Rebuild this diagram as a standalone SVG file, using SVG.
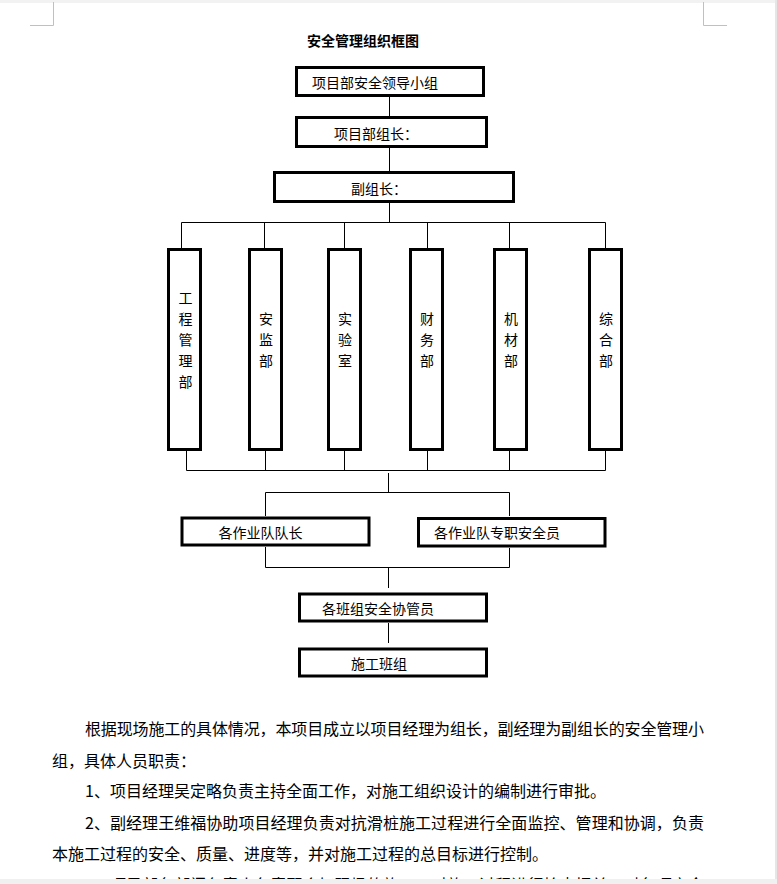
<svg xmlns="http://www.w3.org/2000/svg" width="777" height="884" viewBox="0 0 777 884">
<style>
.box{fill:#fff;stroke:#000;stroke-width:3}
.ln{fill:none;stroke:#000;stroke-width:1}
.lbl{font-family:"Noto Sans CJK SC","Noto Sans",sans-serif;font-size:14px;fill:#000;dominant-baseline:central}
.vt{font-family:"Noto Sans CJK SC","Noto Sans",sans-serif;font-size:14px;fill:#000;dominant-baseline:central;text-anchor:middle}
.title{font-family:"Noto Sans CJK SC","Noto Sans",sans-serif;font-size:14px;font-weight:bold;fill:#000;dominant-baseline:central}
.para{font-family:"Noto Sans CJK SC","Noto Sans",sans-serif;font-size:16px;fill:#000;dominant-baseline:central}
.mark{fill:none;stroke:#c0c0c0;stroke-width:1}
</style>
<rect x="0" y="0" width="777" height="884" fill="#fff"/>
<rect x="0" y="0" width="777" height="3" fill="#f2f2f2"/>
<rect x="775" y="0" width="2" height="884" fill="#e6e6e6"/>
<path class="mark" d="M53.5 2 V25.5 H30 M703.5 2 V25.5 H727"/>
<text class="title" x="307" y="40">安全管理组织框图</text>

<g id="connectors">
<path class="ln" d="M389.5 97 V116 M389.5 148 V171 M389.5 203 V222.5"/>
<path class="ln" d="M181.5 222.5 H605.5 M181.5 222.5 V248 M264.5 222.5 V248 M344.5 222.5 V248 M427.5 222.5 V248 M509.5 222.5 V248 M605.5 222.5 V248"/>
<path class="ln" d="M186.5 451 V470.5 M265.5 451 V470.5 M344.5 451 V470.5 M427.5 451 V470.5 M509.5 451 V470.5 M605.5 451 V470.5 M186.5 470.5 H605.5"/>
<path class="ln" d="M388.5 473 V492.5 M265.5 492.5 H509.5 M265.5 492.5 V516 M509.5 492.5 V516"/>
<path class="ln" d="M265.5 547 V567.5 M509.5 548 V567.5 M265.5 567.5 H509.5 M388.5 567.5 V588"/>
<path class="ln" d="M388.5 623 V643"/>
</g>

<g id="n1"><rect class="box" x="296.5" y="67.5" width="187" height="28"/><text class="lbl" x="312" y="82">项目部安全领导小组</text></g>
<g id="n2"><rect class="box" x="296.5" y="117.5" width="190" height="29"/><text class="lbl" x="334" y="133">项目部组长：</text></g>
<g id="n3"><rect class="box" x="274.5" y="172.5" width="239" height="29"/><text class="lbl" x="351" y="188">副组长：</text></g>

<g id="d1"><rect class="box" x="168.5" y="249.5" width="32" height="200"/>
<text class="vt" x="185.5" y="297">工</text><text class="vt" x="185.5" y="318">程</text><text class="vt" x="185.5" y="339">管</text><text class="vt" x="185.5" y="360">理</text><text class="vt" x="185.5" y="381">部</text></g>
<g id="d2"><rect class="box" x="249.5" y="249.5" width="32" height="200"/>
<text class="vt" x="266" y="318">安</text><text class="vt" x="266" y="339">监</text><text class="vt" x="266" y="360">部</text></g>
<g id="d3"><rect class="box" x="328.5" y="249.5" width="32" height="200"/>
<text class="vt" x="345" y="318">实</text><text class="vt" x="345" y="339">验</text><text class="vt" x="345" y="360">室</text></g>
<g id="d4"><rect class="box" x="410.5" y="249.5" width="32" height="200"/>
<text class="vt" x="427" y="318">财</text><text class="vt" x="427" y="339">务</text><text class="vt" x="427" y="360">部</text></g>
<g id="d5"><rect class="box" x="494.5" y="249.5" width="32" height="200"/>
<text class="vt" x="511" y="318">机</text><text class="vt" x="511" y="339">材</text><text class="vt" x="511" y="360">部</text></g>
<g id="d6"><rect class="box" x="589.5" y="249.5" width="32" height="200"/>
<text class="vt" x="606" y="318">综</text><text class="vt" x="606" y="339">合</text><text class="vt" x="606" y="360">部</text></g>

<g id="nA"><rect class="box" x="182" y="518" width="187" height="27"/><text class="lbl" x="218.5" y="532">各作业队队长</text></g>
<g id="nB"><rect class="box" x="418.5" y="518.5" width="186.5" height="27.5"/><text class="lbl" x="434" y="532">各作业队专职安全员</text></g>
<g id="nC"><rect class="box" x="299.5" y="594" width="187" height="27"/><text class="lbl" x="322" y="608">各班组安全协管员</text></g>
<g id="nD"><rect class="box" x="299.5" y="649" width="187" height="27"/><text class="lbl" x="351" y="663">施工班组</text></g>

<g id="paragraph">
<text class="para" x="85" y="728" textLength="619" lengthAdjust="spacing">根据现场施工的具体情况，本项目成立以项目经理为组长，副经理为副组长的安全管理小</text>
<text class="para" x="52" y="760">组，具体人员职责：</text>
<text class="para" x="85" y="790">1、项目经理吴定略负责主持全面工作，对施工组织设计的编制进行审批。</text>
<text class="para" x="85" y="822" textLength="619" lengthAdjust="spacing">2、副经理王维福协助项目经理负责对抗滑桩施工过程进行全面监控、管理和协调，负责</text>
<text class="para" x="52" y="853">本施工过程的安全、质量、进度等，并对施工过程的总目标进行控制。</text>
<text class="para" x="85" y="884" textLength="619" lengthAdjust="spacing">3、项目部各部门负责人负责配合好现场的施工，对施工过程进行检查把关，对各项安全</text>
</g>
<rect x="0" y="879" width="777" height="5" fill="#f0f0f0"/>
</svg>
